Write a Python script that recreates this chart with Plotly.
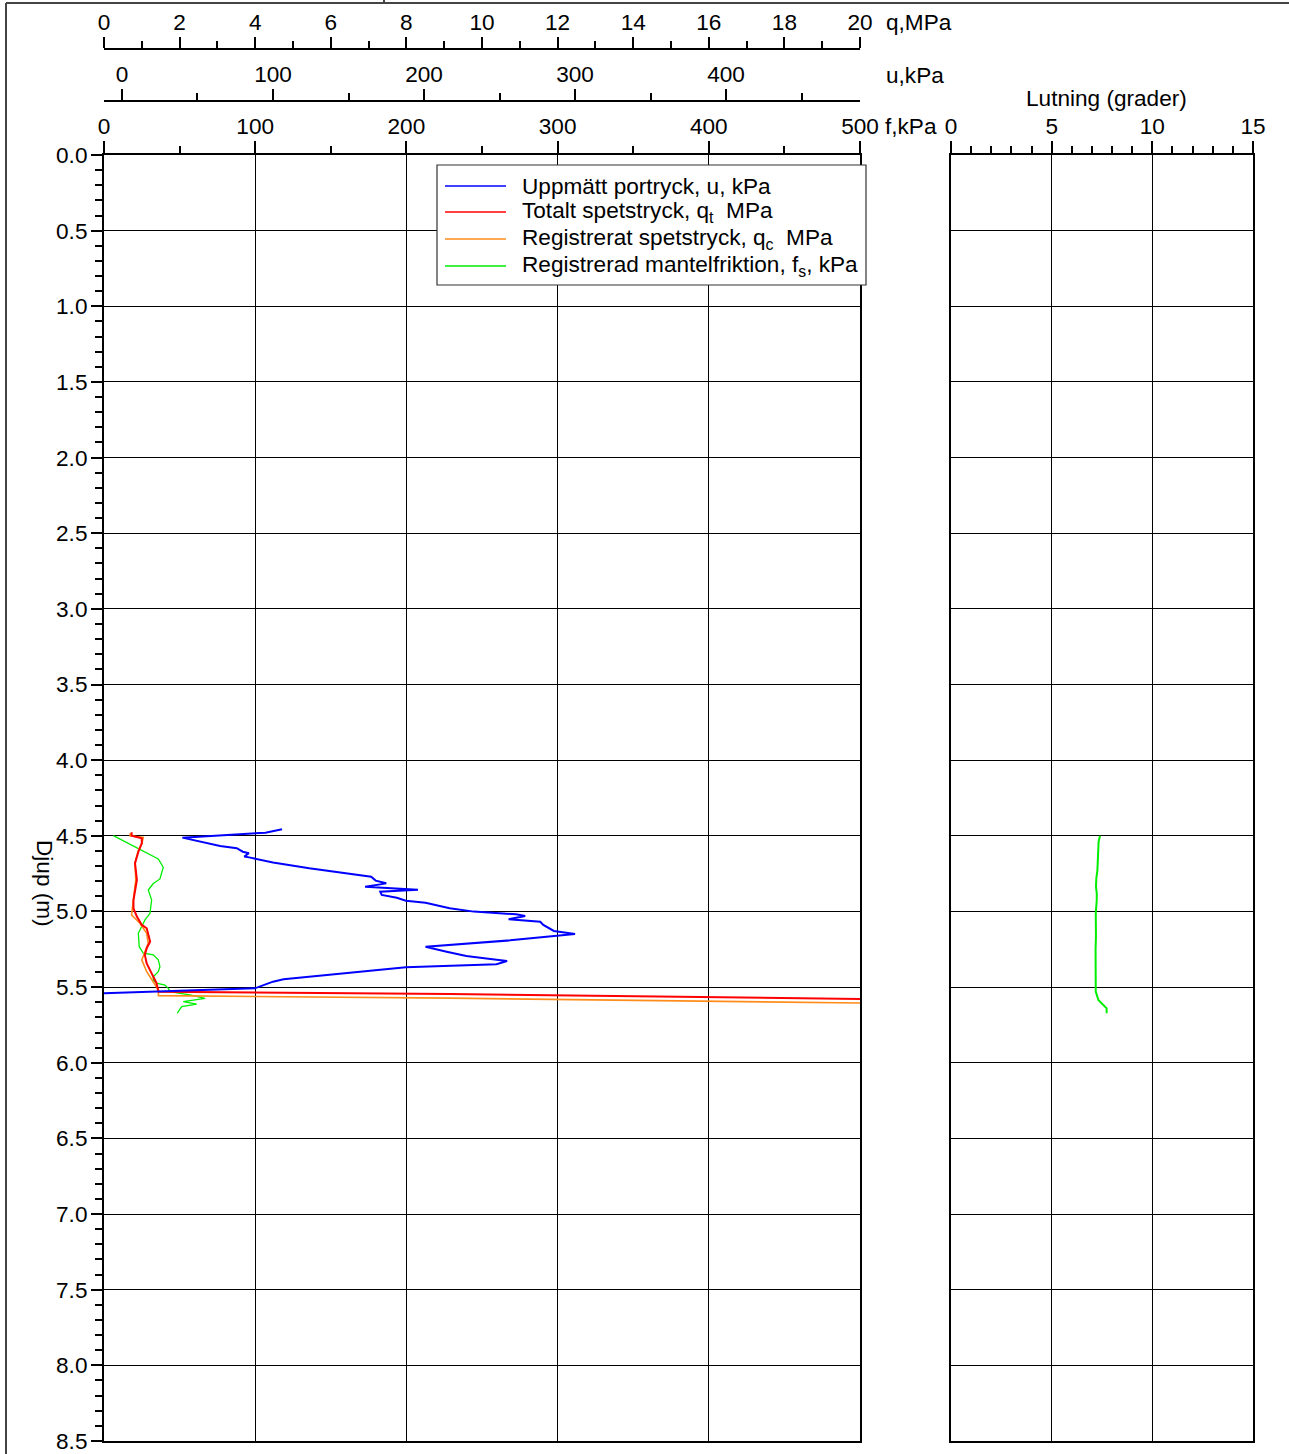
import plotly.graph_objects as go

# ---------------- data ----------------
depth_u = [4.457, 4.479, 4.512, 4.527, 4.545, 4.567, 4.582, 4.605, 4.615, 4.637, 4.644, 4.677, 4.715,
           4.741, 4.770, 4.796, 4.814, 4.821, 4.837, 4.856, 4.869, 4.891, 4.909, 4.929, 4.942, 4.979,
           5.001, 5.012, 5.019, 5.030, 5.052, 5.068, 5.089, 5.129, 5.149, 5.191, 5.233, 5.266, 5.294,
           5.314, 5.327, 5.349, 5.369, 5.448, 5.464, 5.508, 5.541]
u_kpa = [106, 95, 40, 47, 54, 65, 76, 80, 84, 81, 85, 100, 124,
         142, 165, 168, 175, 171, 161, 196, 171, 172, 182, 188, 201, 217,
         233, 250, 261, 267, 256, 277, 279, 286, 300, 257, 201, 215, 228,
         244, 255, 248, 188, 107, 100, 88, -12]

depth_qt = [4.476, 4.499, 4.516, 4.55, 4.605, 4.681, 4.792, 4.924, 4.979, 5.034, 5.089, 5.111, 5.199,
            5.243, 5.287, 5.343, 5.409, 5.474, 5.530, 5.546, 5.578, 5.60]
qt_mpa = [0.73, 0.73, 1.00, 1.00, 0.91, 0.82, 0.87, 0.78, 0.78, 0.87, 1.00, 1.13, 1.22,
          1.13, 1.08, 1.13, 1.26, 1.39, 1.44, 9.15, 20.0, 24.0]

depth_qc = [4.483, 4.499, 4.51, 4.55, 4.594, 4.681, 4.792, 4.924, 5.023, 5.078, 5.144, 5.21, 5.287,
            5.32, 5.398, 5.464, 5.519, 5.556, 5.573, 5.605, 5.63]
qc_mpa = [0.69, 0.69, 1.04, 1.00, 0.91, 0.82, 0.84, 0.78, 0.73, 0.95, 1.13, 1.17, 1.04,
          1.00, 1.13, 1.30, 1.44, 1.44, 9.15, 20.0, 24.0]

depth_fs = [4.499, 4.543, 4.587, 4.62, 4.653, 4.708, 4.785, 4.815, 4.858, 4.924, 5.012, 5.056, 5.1,
            5.144, 5.233, 5.276, 5.287, 5.32, 5.365, 5.398, 5.431, 5.453, 5.474, 5.486, 5.508, 5.53,
            5.541, 5.552, 5.574, 5.596, 5.613, 5.629, 5.662, 5.673]
fs_kpa = [6.2, 15.0, 23.8, 30.4, 35.9, 39.2, 37.0, 32.6, 29.3, 31.5, 30.4, 27.1, 24.9,
          22.7, 23.3, 26.0, 32.6, 35.9, 37.0, 35.9, 32.6, 32.6, 34.8, 40.3, 42.5, 43.7,
          50.3, 56.9, 66.8, 52.4, 61.3, 51.4, 49.1, 48.5]

depth_lut = [4.499, 4.54, 4.576, 4.65, 4.73, 4.78, 4.836, 4.88, 4.924, 5.012, 5.08, 5.166, 5.25,
             5.365, 5.45, 5.53, 5.585, 5.618, 5.64, 5.673]
lutning = [7.40, 7.33, 7.32, 7.30, 7.27, 7.22, 7.20, 7.24, 7.24, 7.19, 7.21, 7.20, 7.18,
           7.19, 7.20, 7.19, 7.32, 7.57, 7.73, 7.73]

legend_labels = ["Uppmätt portryck, u, kPa",
                 "Totalt spetstryck, q<sub>t</sub>  MPa",
                 "Registrerat spetstryck, q<sub>c</sub>  MPa",
                 "Registrerad mantelfriktion, f<sub>s</sub>, kPa"]
colors = ["#0000ff", "#ff0000", "#ff8c1a", "#00ee00"]

# ---------------- geometry helpers (page pixels, body margin removed) ----------------
W, H = 1289, 1454


def px(x):
    return x / W


def py(y):
    return 1 - y / H


FONT = "Liberation Sans, Arial, sans-serif"
FS = 22.6

fig = go.Figure()

fig.add_trace(go.Scatter(x=u_kpa, y=depth_u, xaxis="x3", yaxis="y", mode="lines",
                         line=dict(color=colors[0], width=2), name="u"))
fig.add_trace(go.Scatter(x=qc_mpa, y=depth_qc, xaxis="x2", yaxis="y", mode="lines",
                         line=dict(color=colors[2], width=1.6), name="qc"))
fig.add_trace(go.Scatter(x=qt_mpa, y=depth_qt, xaxis="x2", yaxis="y", mode="lines",
                         line=dict(color=colors[1], width=2), name="qt"))
fig.add_trace(go.Scatter(x=fs_kpa, y=depth_fs, xaxis="x", yaxis="y", mode="lines",
                         line=dict(color=colors[3], width=1.3), name="fs"))
fig.add_trace(go.Scatter(x=lutning, y=depth_lut, xaxis="x4", yaxis="y2", mode="lines",
                         line=dict(color=colors[3], width=2), name="Lutning"))

tickfont = dict(family=FONT, size=FS, color="black")
common = dict(showline=True, linecolor="black", linewidth=2, zeroline=False,
              ticks="outside", tickcolor="black", tickwidth=1.5, tickfont=tickfont)


def minor(dt, ln=7):
    return dict(dtick=dt, tick0=0, ticklen=ln, ticks="outside", tickcolor="black",
                tickwidth=1.5, showgrid=False)


main_dom = [px(104), px(860)]
right_dom = [px(951), px(1253)]
y_dom = [py(1441), py(155)]

fig.update_layout(
    width=W, height=H, margin=dict(l=0, r=0, t=0, b=0, autoexpand=False),
    paper_bgcolor="white", plot_bgcolor="white", showlegend=False,
    font=dict(family=FONT, size=FS, color="black"),
    xaxis=dict(domain=main_dom, range=[0, 500], side="top", anchor="y",
               tickvals=[0, 100, 200, 300, 400, 500], ticklen=12, minor=minor(50),
               ticklabelstandoff=-2,
               showgrid=True, gridcolor="black", gridwidth=1, mirror=True, **common),
    xaxis2=dict(overlaying="x", anchor="free", position=py(49), side="top", range=[0, 20],
                tickvals=list(range(0, 21, 2)), ticklen=11, minor=minor(1),
                ticklabelstandoff=-2, showgrid=False, **common),
    xaxis3=dict(overlaying="x", anchor="free", position=py(101), side="top",
                range=[-11.9, 488.7], tickvals=[0, 100, 200, 300, 400], ticklen=11,
                minor=minor(50), ticklabelstandoff=-2, showgrid=False, **common),
    xaxis4=dict(domain=right_dom, anchor="y2", side="top", range=[0, 15],
                tickvals=[0, 5, 10, 15], ticklen=12, minor=minor(1), ticklabelstandoff=-2,
                showgrid=True, gridcolor="black", gridwidth=1, mirror=True, **common),
    yaxis=dict(domain=y_dom, range=[8.5, 0], anchor="x", tickvals=[i * 0.5 for i in range(18)],
               tickformat=".1f", ticklen=11, minor=minor(0.1), ticklabelstandoff=-1,
               showgrid=True, gridcolor="black", gridwidth=1, mirror=True, **common),
    yaxis2=dict(domain=y_dom, range=[8.5, 0], anchor="x4", matches="y",
                tickvals=[i * 0.5 for i in range(18)], showticklabels=False, ticks="",
                showgrid=True, gridcolor="black", gridwidth=1, showline=True, linecolor="black",
                linewidth=2, mirror=True, zeroline=False),
)

ann = []


def text(x, y, s, xanchor="left", angle=0, size=FS):
    ann.append(dict(x=px(x), y=py(y), xref="paper", yref="paper", text=s, showarrow=False,
                    xanchor=xanchor, yanchor="middle", textangle=angle,
                    font=dict(family=FONT, size=size, color="black")))


text(884, 22, "q,MPa")
text(884, 75, "u,kPa")
text(883, 127, "f,kPa")
text(1106, 98, "Lutning (grader)", xanchor="center")
text(45, 883, "Djup (m)", xanchor="center", angle=90)

shapes = []
# legend box
shapes.append(dict(type="rect", xref="paper", yref="paper", x0=px(437), x1=px(866), y0=py(285),
                   y1=py(165), line=dict(color="#333333", width=1.2), fillcolor="white", layer="above"))
rows = [186, 212, 239, 266]
for i, (lab, col) in enumerate(zip(legend_labels, colors)):
    shapes.append(dict(type="line", xref="paper", yref="paper", x0=px(445), x1=px(506),
                       y0=py(rows[i]), y1=py(rows[i]), line=dict(color=col, width=1.3), layer="above"))
    text(520, rows[i], lab)

# outer frame fragments
shapes.append(dict(type="line", xref="paper", yref="paper", x0=px(6), x1=1, y0=py(3), y1=py(3),
                   line=dict(color="#444444", width=2)))
shapes.append(dict(type="line", xref="paper", yref="paper", x0=px(6), x1=px(6), y0=0, y1=py(3),
                   line=dict(color="#444444", width=2)))
shapes.append(dict(type="line", xref="paper", yref="paper", x0=px(384), x1=px(384), y0=py(3), y1=1,
                   line=dict(color="#444444", width=2)))

fig.update_layout(annotations=ann, shapes=shapes)

fig.write_html("out.html", config={"displayModeBar": False},
               post_script="document.body.style.margin='0';document.body.style.overflow='hidden';")
